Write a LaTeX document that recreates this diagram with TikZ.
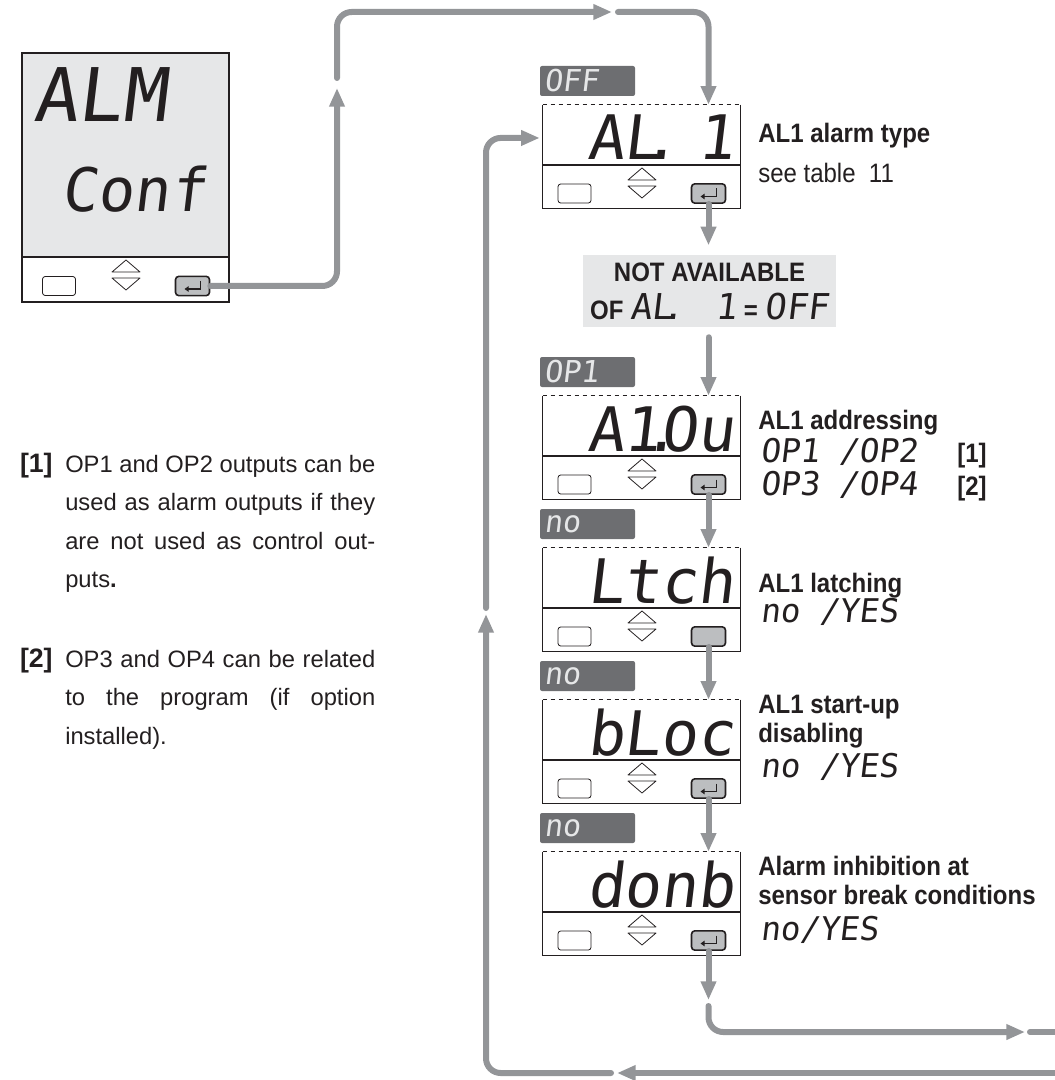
\documentclass[tikz,border=0pt]{standalone}
\usepackage{fontspec}
\setmainfont{Liberation Sans}
\newfontfamily\segfont[FakeSlant=0.12]{DejaVu Sans Mono}
\newfontfamily\condfont[FakeStretch=0.9]{Liberation Sans}
\usetikzlibrary{arrows.meta}
\definecolor{ln}{HTML}{939598}
\definecolor{ink}{HTML}{231F20}
\definecolor{lcd}{HTML}{E6E7E8}
\definecolor{tagc}{HTML}{6D6E71}
\definecolor{btn}{HTML}{BCBEC0}
\definecolor{tagtxt}{HTML}{E6E7E8}
\newcommand\segdot{\makebox[0pt][c]{.}}
\newcommand\notenum[1]{\leavevmode\llap{{\bfseries\fontsize{20}{28.875}\selectfont[#1]}\hspace{9.5pt}}}
\newcommand\updown[2]{%
  \draw[ink, line width=0.6pt, line join=round] ({#1-14},{#2+15}) -- (#1,{#2+3}) -- ({#1+14},{#2+15}) -- cycle;
  \draw[ink, line width=0.6pt, line join=round] ({#1-14},{#2+21}) -- (#1,{#2+33}) -- ({#1+14},{#2+21}) -- cycle;}
\newcommand\entsym[1]{\draw[ink, line width=1pt, -{Triangle[length=3pt,width=4pt]}] ([shift={(8,-5)}]#1.center) -- ++(0,8) -- ++(-16,0);}
\newcommand\mypanel[5]{%
  \node[tagbox] (#1-tag) at (587.5,{#2-24}) {#4};
  \node[panelbox] (#1) at (641.5,{#2+51.5}) {};
  \draw[ink, line width=0.8pt] (#1.north east) -- (#1.south east) -- (#1.south west) -- (#1.north west);
  \draw[ink, line width=0.8pt, dash pattern=on 3.5pt off 2.5pt] (#1.north west) -- (#1.north east);
  \draw[ink, line width=0.8pt] (543,{#2+60}) -- (740,{#2+60});
  \node[lbtn] (#1-l) at (574.5,{#2+88.5}) {};
  \updown{642}{#2+60}
  \node[ebtn] (#1-e) at (708.5,{#2+88.5}) {};
  \ifnum#5=1 \entsym{#1-e}\fi
  \node[segbig] (#1-txt) at (735,{#2+55}) {#3};
}
\begin{document}
\begin{tikzpicture}[x=0.75pt,y=-0.75pt,
  conn/.style={draw=ln, line width=4.5pt, line cap=round, rounded corners=11pt, -{Triangle[length=14pt,width=11pt]}},
  plain/.style={draw=ln, line width=4.5pt, line cap=round, rounded corners=11pt},
  lbtn/.style={draw=ink, line width=0.6pt, fill=white, rounded corners=2pt, minimum width=24.75pt, minimum height=14.25pt, inner sep=0},
  ebtn/.style={draw=ink, line width=1.2pt, fill=btn, rounded corners=2.5pt, minimum width=25.5pt, minimum height=14.5pt, inner sep=0},
  tagbox/.style={fill=tagc, rounded corners=1.5pt, minimum height=22.5pt, inner xsep=3pt, inner ysep=0pt, text width=65.25pt, align=left, text=tagtxt, font=\segfont\fontsize{22.6}{22.6}\selectfont},
  panelbox/.style={minimum width=147.75pt, minimum height=77.25pt, inner sep=0},
  segbig/.style={font=\segfont\fontsize{46}{46}\selectfont, text=ink, inner sep=0, anchor=base east},
  segval/.style={font=\segfont\fontsize{24.5}{24.5}\selectfont, text=ink, inner sep=0, anchor=base west},
  lbl/.style={font=\condfont\bfseries\fontsize{20}{22}\selectfont, text=ink, inner sep=0, anchor=base west},
  lblreg/.style={font=\condfont\fontsize{20}{22}\selectfont, text=ink, inner sep=0, anchor=base west},
  prose/.style={font=\fontsize{17.8}{28.875}\selectfont, text=ink, inner sep=0, anchor=base west}]
\useasboundingbox (0,0) rectangle (1054,1080);
% top-left display
\fill[lcd] (22,53) rectangle (229,257);
\node[draw=ink, line width=1pt, minimum width=155.25pt, minimum height=186.75pt, inner sep=0] (alm) at (125.5,177.5) {};
\draw[ink, line width=0.8pt] (22,257) -- (229,257);
\node[lbtn] (alm-l) at (59,286) {};
\updown{126}{257}
\node[ebtn] (alm-e) at (192.5,286) {};
\entsym{alm-e}
\node[font=\segfont\fontsize{55.5}{55.5}\selectfont, text=ink, inner sep=0, anchor=base west] (alm-t1) at (33,122) {ALM};
\node[font=\segfont\fontsize{45}{45}\selectfont, text=ink, inner sep=0, anchor=base] (alm-t2) at (134,212) {Conf};
% panels
\mypanel{al1}{105}{AL\segdot\ 1}{OFF}{1}
\mypanel{aou}{396}{A1\segdot Ou}{OP1}{1}
\mypanel{ltc}{548}{Ltch}{no}{0}
\mypanel{blc}{700}{bLoc}{no}{1}
\mypanel{dnb}{852}{donb}{no}{1}
% not available box
\node[fill=lcd, minimum width=189.75pt, minimum height=54pt, inner sep=0, align=center, text=ink, font=\condfont\bfseries\fontsize{20}{28.5}\selectfont] (na) at (709.5,291) {NOT AVAILABLE\\{\condfont\bfseries\fontsize{20}{28.5}\selectfont OF} {\segfont\mdseries\fontsize{26.7}{28.5}\selectfont AL\segdot\ \ 1} {\condfont\bfseries\fontsize{20}{28.5}\selectfont =} {\segfont\mdseries\fontsize{26.7}{28.5}\selectfont OFF}};
% labels
\node[lbl] (t-al1) at (758,143) {AL1 alarm type};
\node[lblreg] (v-al1) at (758,183) {see table\ \ 11};
\node[lbl] (t-aou) at (758,429) {AL1 addressing};
\node[segval] (v-aou1) at (760,462) {OP1 /OP2};
\node[lbl] (n-aou1) at (957,462) {[1]};
\node[segval] (v-aou2) at (760,495) {OP3 /OP4};
\node[lbl] (n-aou2) at (957,495) {[2]};
\node[lbl] (t-ltc) at (758,592) {AL1 latching};
\node[segval] (v-ltc) at (760,622) {no /YES};
\node[lbl] (t-blc) at (758,713) {\parbox[t]{200pt}{AL1 start-up\\disabling}};
\node[segval] (v-blc) at (760,777) {no /YES};
\node[lbl] (t-dnb) at (758,875) {\parbox[t]{250pt}{Alarm inhibition at\\sensor break conditions}};
\node[segval] (v-dnb) at (760,940) {no/YES};
% notes
\node[prose] (note1) at (65,472) {\parbox[t]{232.5pt}{\notenum{1}\makebox[232.5pt][s]{OP1 and OP2 outputs can be}\\\makebox[232.5pt][s]{used as alarm outputs if they}\\\makebox[232.5pt][s]{are not used as control out-}\\puts\textbf{.}}};
\node[prose] (note2) at (65,667) {\parbox[t]{232.5pt}{\notenum{2}\makebox[232.5pt][s]{OP3 and OP4 can be related}\\\makebox[232.5pt][s]{to the program (if option}\\installed).}};
% connectors
\coordinate (p1) at (337,88);
\coordinate (p1b) at (337,78);
\coordinate (p2) at (612,12);
\coordinate (p2b) at (618,12);
\draw[conn] (alm-e.east) -| (p1);
\draw[conn] (p1b) |- (p2);
\draw[conn] (p2b) -| (al1-e.center |- al1.north);
\draw[conn, shorten >=7pt] (al1-e.south) -- (al1-e.south |- na.north);
\coordinate (nab) at ([yshift=-7.5pt]na.south);
\draw[conn] (nab -| al1-e.center) -- (al1-e.center |- aou.north);
\draw[conn] (aou-e.south) -- (aou-e.south |- ltc.north);
\draw[conn] (ltc-e.south) -- (ltc-e.south |- blc.north);
\draw[conn] (blc-e.south) -- (blc-e.south |- dnb.north);
\coordinate (q1) at (708.5,1000);
\coordinate (q1b) at (708.5,1006);
\coordinate (q2) at (1025,1032);
\coordinate (q2b) at (1030,1032);
\coordinate (q3) at (1058,1032);
\draw[conn] (dnb-e.south) -- (q1);
\draw[conn] (q1b) |- (q2);
\draw[plain] (q2b) -- (q3);
\coordinate (r0) at (1058,1073);
\coordinate (r1) at (617,1073);
\coordinate (r1b) at (611,1073);
\coordinate (r2) at (486,614);
\coordinate (r2b) at (486,608);
\draw[conn] (r0) -- (r1);
\draw[conn] (r1b) -| (r2);
\coordinate (al1in) at ([xshift=-2.25pt,yshift=13.9pt]al1.west);
\draw[conn] (r2b) |- (al1in);
\end{tikzpicture}
\end{document}
